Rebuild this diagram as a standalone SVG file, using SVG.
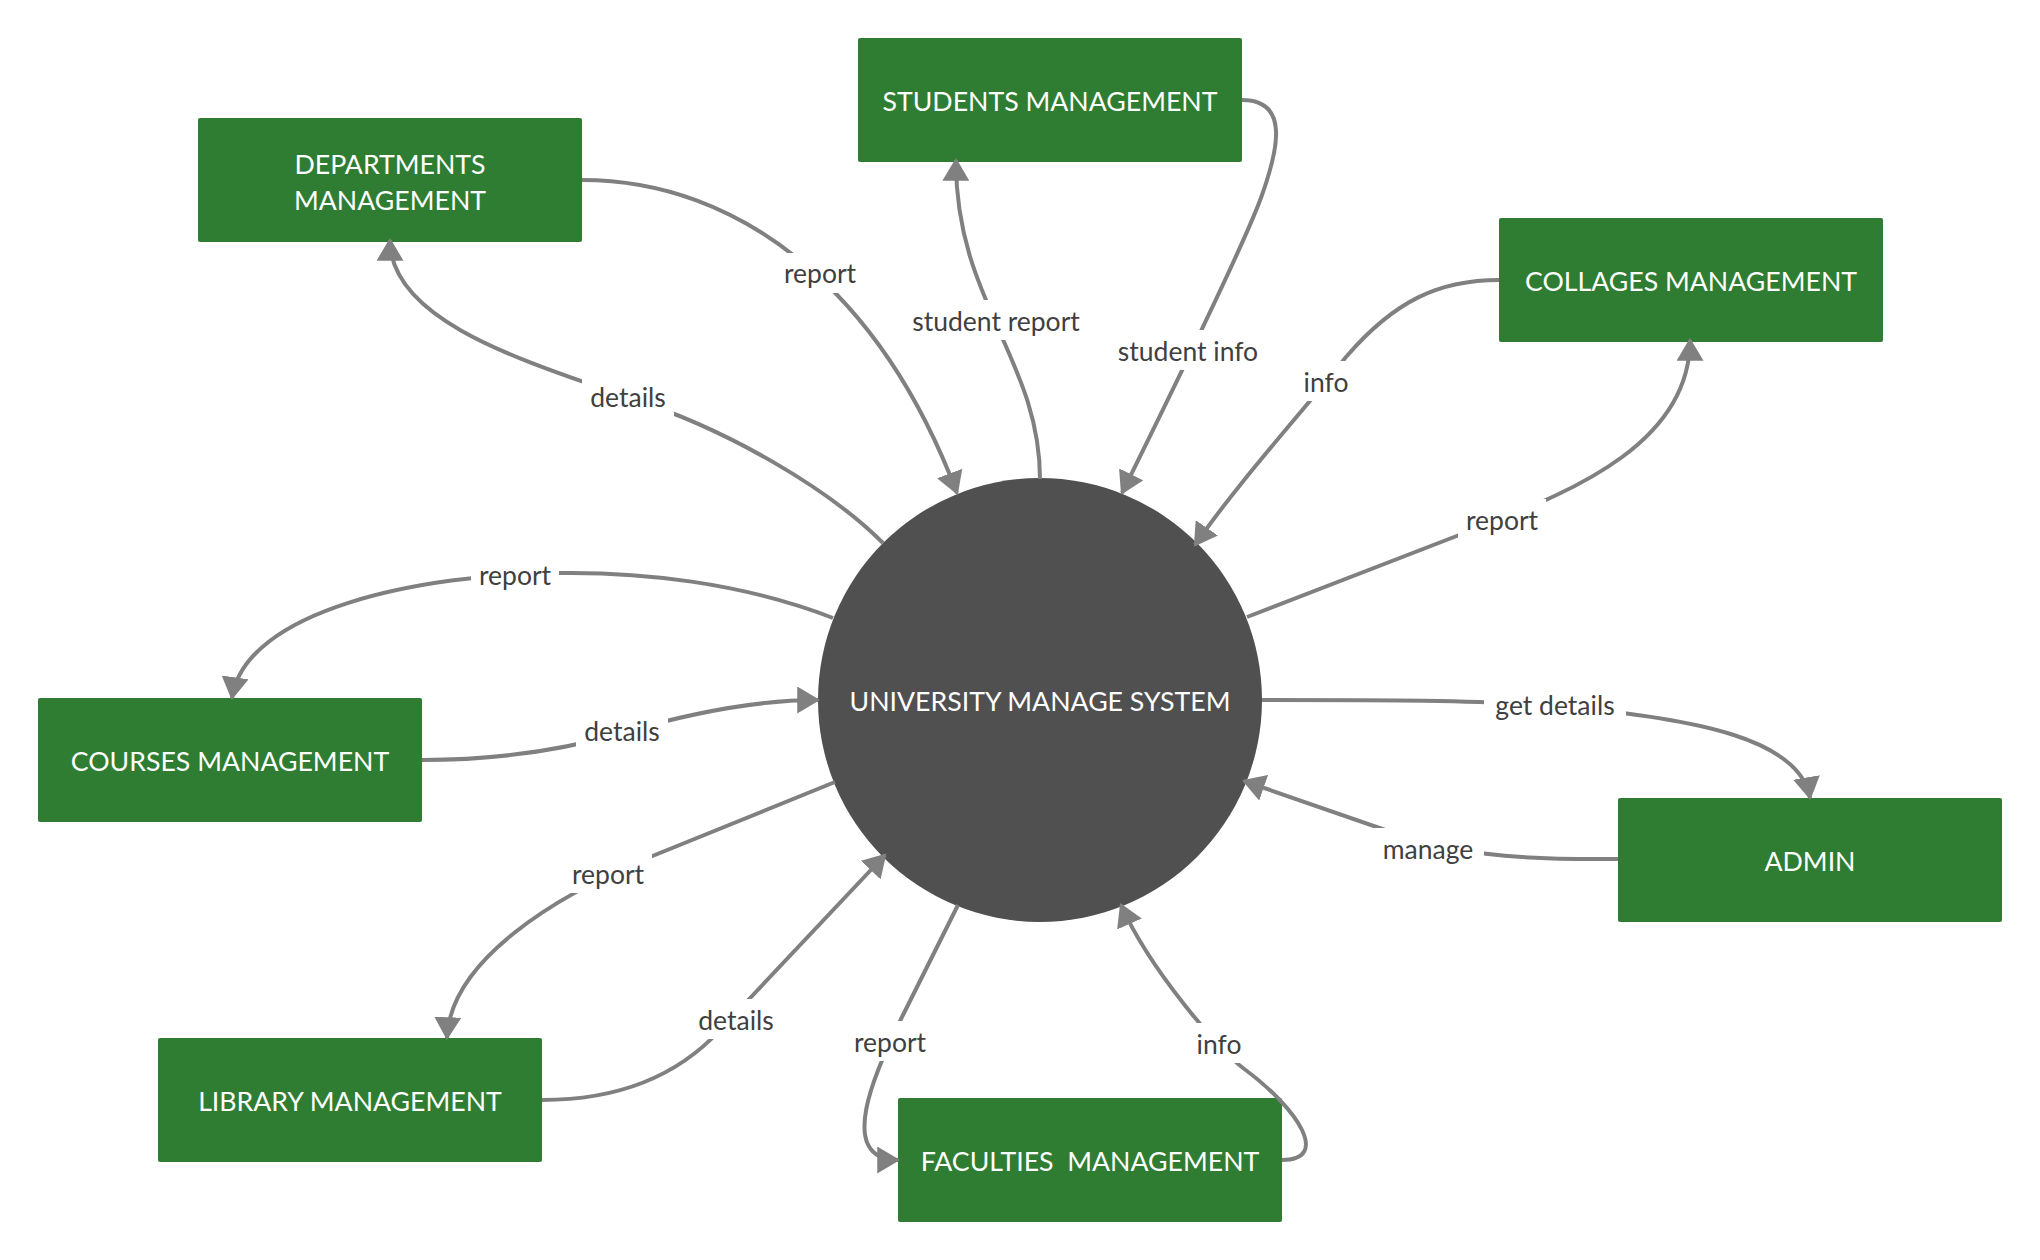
<svg xmlns="http://www.w3.org/2000/svg" width="2040" height="1260" viewBox="0 0 2040 1260">
<defs>
<style>
.box{fill:#2e7d32;}
.ntext{font-family:Lato,"Liberation Sans",sans-serif;font-size:26.7px;fill:#ffffff;text-anchor:middle;dominant-baseline:central;}
.edge{fill:none;stroke:#808080;stroke-width:4;}
.arr{marker-end:url(#arrow);}
.lbg{fill:#ffffff;}
.ltext{font-family:Lato,"Liberation Sans",sans-serif;font-size:26.5px;fill:#404040;text-anchor:middle;dominant-baseline:central;}
</style>
<marker id="arrow" markerUnits="userSpaceOnUse" viewBox="0 0 22 26" markerWidth="23" markerHeight="27" refX="20" refY="13" orient="auto">
<path d="M0,0 L22,13 L0,26 z" fill="#808080"/>
</marker>
</defs>
<rect x="0" y="0" width="2040" height="1260" fill="#ffffff"/>

<g id="node-system">
<circle cx="1040" cy="700" r="222" fill="#505050"/>
<text class="ntext" x="1040" y="701">UNIVERSITY MANAGE SYSTEM</text>
</g>
<g id="node-departments">
<rect class="box" x="198" y="118" width="384" height="124" rx="2"/>
<text class="ntext" x="390" y="163.5">DEPARTMENTS</text>
<text class="ntext" x="390" y="199.5">MANAGEMENT</text>
</g>
<g id="node-students">
<rect class="box" x="858" y="38" width="384" height="124" rx="2"/>
<text class="ntext" x="1050" y="100.5">STUDENTS MANAGEMENT</text>
</g>
<g id="node-collages">
<rect class="box" x="1499" y="218" width="384" height="124" rx="2"/>
<text class="ntext" x="1691" y="280.5">COLLAGES MANAGEMENT</text>
</g>
<g id="node-courses">
<rect class="box" x="38" y="698" width="384" height="124" rx="2"/>
<text class="ntext" x="230" y="761">COURSES MANAGEMENT</text>
</g>
<g id="node-admin">
<rect class="box" x="1618" y="798" width="384" height="124" rx="2"/>
<text class="ntext" x="1810" y="861">ADMIN</text>
</g>
<g id="node-library">
<rect class="box" x="158" y="1038" width="384" height="124" rx="2"/>
<text class="ntext" x="350" y="1101">LIBRARY MANAGEMENT</text>
</g>
<g id="node-faculties">
<rect class="box" x="898" y="1098" width="384" height="124" rx="2"/>
<text class="ntext" x="1090" y="1161" xml:space="preserve">FACULTIES  MANAGEMENT</text>
</g>

<g id="connectors">
<g id="e-dept-report">
<path class="edge arr" d="M582,180 C740,180 880,290 957,493"/>
<rect class="lbg" x="776" y="253" width="88" height="40"/>
<text class="ltext" x="820" y="273">report</text>
</g>
<g id="e-dept-details">
<path class="edge arr" d="M883,543 C830,490 730,430 630,398 C520,360 390,320 390,240"/>
<rect class="lbg" x="582" y="376" width="92" height="40"/>
<text class="ltext" x="628" y="396.5">details</text>
</g>
<g id="e-students-report">
<path class="edge arr" d="M1040,479 C1040,360 955,300 956,160"/>
<rect class="lbg" x="904" y="300" width="184" height="40"/>
<text class="ltext" x="996" y="320.5">student report</text>
</g>
<g id="e-students-info">
<path class="edge arr" d="M1242,100 C1290,100 1278,150 1262,195 C1243,249 1154,428 1122,493"/>
<rect class="lbg" x="1110" y="330" width="157" height="40"/>
<text class="ltext" x="1188" y="350.5">student info</text>
</g>
<g id="e-collages-info">
<path class="edge arr" d="M1499,280 C1440,280 1395,300 1346,357 C1300,415 1240,480 1195,545"/>
<rect class="lbg" x="1296" y="361" width="60" height="40"/>
<text class="ltext" x="1326" y="381.5">info</text>
</g>
<g id="e-collages-report">
<path class="edge arr" d="M1247,617 L1480,527 C1580,489 1690,440 1690,340"/>
<rect class="lbg" x="1458" y="499" width="88" height="40"/>
<text class="ltext" x="1502" y="519.5">report</text>
</g>
<g id="e-courses-report">
<path class="edge arr" d="M833,618 C740,582 640,572 560,573 C420,574 245,610 232,698"/>
<rect class="lbg" x="471" y="554" width="88" height="40"/>
<text class="ltext" x="515" y="574.5">report</text>
</g>
<g id="e-courses-details">
<path class="edge arr" d="M422,760 C500,760 570,748 622,733 C680,716 750,700 818,700"/>
<rect class="lbg" x="576" y="710" width="92" height="40"/>
<text class="ltext" x="622" y="730.5">details</text>
</g>
<g id="e-library-report">
<path class="edge arr" d="M835,782 L650,857 C557,895 450,960 447,1038"/>
<rect class="lbg" x="564" y="853" width="88" height="40"/>
<text class="ltext" x="608" y="873.5">report</text>
</g>
<g id="e-library-details">
<path class="edge arr" d="M542,1100 C610,1100 673,1081 720,1030 L885,855"/>
<rect class="lbg" x="690" y="999" width="92" height="40"/>
<text class="ltext" x="736" y="1019.5">details</text>
</g>
<g id="e-faculties-report">
<path class="edge arr" d="M958,905 L903,1015 C875,1071 835,1160 898,1160"/>
<rect class="lbg" x="846" y="1021" width="88" height="40"/>
<text class="ltext" x="890" y="1041.5">report</text>
</g>
<g id="e-faculties-info">
<path class="edge arr" d="M1282,1160 C1330,1160 1300,1110 1243,1068 C1220,1051 1150,970 1121,905"/>
<rect class="lbg" x="1189" y="1023" width="60" height="40"/>
<text class="ltext" x="1219" y="1043.5">info</text>
</g>
<g id="e-admin-getdetails">
<path class="edge arr" d="M1262,700 C1380,700 1480,700 1554,706 C1700,718 1800,740 1810,798"/>
<rect class="lbg" x="1484" y="684" width="142" height="40"/>
<text class="ltext" x="1555" y="704.5">get details</text>
</g>
<g id="e-admin-manage">
<path class="edge arr" d="M1618,859 C1530,860 1470,855 1420,842 L1244,781"/>
<rect class="lbg" x="1372" y="828" width="112" height="40"/>
<text class="ltext" x="1428" y="848.5">manage</text>
</g>
</g>
</svg>
